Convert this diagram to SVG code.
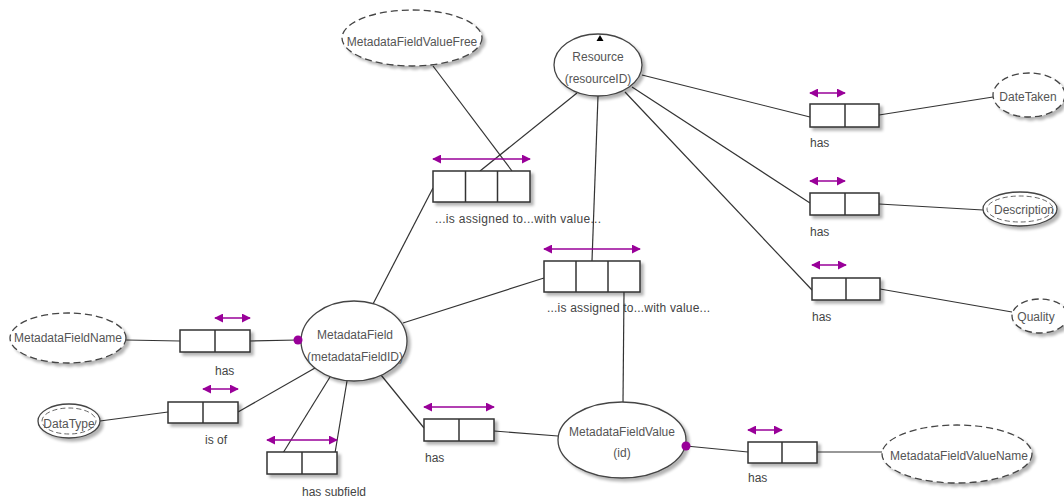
<svg xmlns="http://www.w3.org/2000/svg" width="1064" height="497" viewBox="0 0 1064 497">
<defs>
<style>
.node{fill:#fff;stroke:#444;stroke-width:1.3}
.dash{fill:#fff;stroke:#444;stroke-width:1.3;stroke-dasharray:7 4}
.inner{fill:none;stroke:#666;stroke-width:1;stroke-dasharray:5 3}
.box{fill:#fff;stroke:#333;stroke-width:1.5}
.div{stroke:#333;stroke-width:1.5}
.conn line{stroke:#333;stroke-width:1.2}
.arr{stroke:#990099;stroke-width:1.6;marker-start:url(#ah);marker-end:url(#ah)}
.t{font-family:"Liberation Sans",Arial,sans-serif;font-size:12px;fill:#555;text-anchor:middle}
.lbl{font-family:"Liberation Sans",Arial,sans-serif;font-size:12px;fill:#444}
.dot{fill:#990099}
</style>
<marker id="ah" viewBox="0 0 10 10" refX="9" refY="5" markerWidth="9" markerHeight="9" markerUnits="userSpaceOnUse" orient="auto-start-reverse">
<path d="M0,0 L10,5 L0,10 z" fill="#990099"/>
</marker>
<filter id="sh" x="-20%" y="-20%" width="150%" height="150%">
<feGaussianBlur in="SourceAlpha" stdDeviation="1.5"/>
<feOffset dx="3" dy="3" result="b"/>
<feComponentTransfer><feFuncA type="linear" slope="0.3"/></feComponentTransfer>
<feMerge><feMergeNode/><feMergeNode in="SourceGraphic"/></feMerge>
</filter>
</defs>
<rect width="1064" height="497" fill="#fff"/>

<g id="connectors" class="conn">
<line x1="433" y1="66" x2="512" y2="171"/>
<line x1="577" y1="93" x2="480" y2="171"/>
<line x1="373" y1="304" x2="433" y2="188"/>
<line x1="598" y1="96" x2="592" y2="261"/>
<line x1="403" y1="323" x2="544" y2="278"/>
<line x1="624" y1="292" x2="623" y2="402"/>
<line x1="642" y1="75" x2="810" y2="117"/>
<line x1="879" y1="115" x2="993" y2="97"/>
<line x1="632" y1="87" x2="810" y2="203"/>
<line x1="879" y1="204" x2="983" y2="210"/>
<line x1="625" y1="92" x2="812" y2="290"/>
<line x1="880" y1="289" x2="1012" y2="312"/>
<line x1="126" y1="340" x2="180" y2="341"/>
<line x1="250" y1="341" x2="298" y2="340"/>
<line x1="100" y1="421" x2="168" y2="412"/>
<line x1="238" y1="412" x2="315" y2="368"/>
<line x1="330" y1="377" x2="283" y2="453"/>
<line x1="347" y1="381" x2="335" y2="453"/>
<line x1="381" y1="375" x2="424" y2="428"/>
<line x1="494" y1="431" x2="558" y2="436"/>
<line x1="686" y1="446" x2="748" y2="452"/>
<line x1="817" y1="452" x2="882" y2="452"/>
</g>

<g id="resource">
<ellipse class="node" filter="url(#sh)" cx="598" cy="65" rx="44" ry="31"/>
<polygon points="600,35 596.5,41 603.5,41" fill="#000"/>
<text class="t" x="598" y="61">Resource</text>
<text class="t" x="598" y="83">(resourceID)</text>
</g>

<g id="metadataFieldValueFree">
<ellipse class="dash" filter="url(#sh)" cx="412" cy="38" rx="70" ry="28"/>
<text class="t" x="412" y="46">MetadataFieldValueFree</text>
</g>

<g id="dateTaken">
<ellipse class="dash" filter="url(#sh)" cx="1029" cy="95" rx="36" ry="22"/>
<text class="t" x="1028" y="101">DateTaken</text>
</g>

<g id="description">
<ellipse class="node" filter="url(#sh)" cx="1020" cy="209" rx="37" ry="17"/>
<ellipse class="inner" cx="1020" cy="209" rx="33" ry="13"/>
<text class="t" x="1024" y="214">Description</text>
</g>

<g id="quality">
<ellipse class="dash" filter="url(#sh)" cx="1040" cy="316" rx="28" ry="17"/>
<text class="t" x="1036" y="321">Quality</text>
</g>

<g id="metadataFieldName">
<ellipse class="dash" filter="url(#sh)" cx="68" cy="338" rx="58" ry="25"/>
<text class="t" x="68" y="342">MetadataFieldName</text>
</g>

<g id="dataType">
<ellipse class="node" filter="url(#sh)" cx="69" cy="421" rx="31" ry="17"/>
<ellipse class="inner" cx="69" cy="421" rx="27" ry="13"/>
<text class="t" x="69" y="428">DataType</text>
</g>

<g id="metadataField">
<ellipse class="node" filter="url(#sh)" cx="354" cy="341" rx="53" ry="40"/>
<text class="t" x="355" y="339">MetadataField</text>
<text class="t" x="355" y="361">(metadataFieldID)</text>
<circle class="dot" cx="298" cy="340" r="4.5"/>
</g>

<g id="metadataFieldValue">
<ellipse class="node" filter="url(#sh)" cx="622" cy="440" rx="64" ry="38"/>
<text class="t" x="622" y="436">MetadataFieldValue</text>
<text class="t" x="622" y="457">(id)</text>
<circle class="dot" cx="686" cy="446" r="4.5"/>
</g>

<g id="metadataFieldValueName">
<ellipse class="dash" filter="url(#sh)" cx="957" cy="454" rx="75" ry="29"/>
<text class="t" x="959" y="460">MetadataFieldValueName</text>
</g>

<g id="rel-assigned-top">
<rect class="box" filter="url(#sh)" x="433" y="171" width="97" height="31"/>
<line class="div" x1="465.5" y1="171" x2="465.5" y2="202"/>
<line class="div" x1="497.5" y1="171" x2="497.5" y2="202"/>
<line class="arr" x1="433" y1="159" x2="530" y2="159"/>
<text class="lbl" x="435" y="223" textLength="166">...is assigned to...with value...</text>
</g>

<g id="rel-assigned-mid">
<rect class="box" filter="url(#sh)" x="544" y="261" width="96" height="31"/>
<line class="div" x1="576" y1="261" x2="576" y2="292"/>
<line class="div" x1="608" y1="261" x2="608" y2="292"/>
<line class="arr" x1="544" y1="249" x2="640" y2="249"/>
<text class="lbl" x="547" y="312" textLength="163">...is assigned to...with value...</text>
</g>

<g id="rel-has-datetaken">
<rect class="box" filter="url(#sh)" x="810" y="104" width="69" height="23"/>
<line class="div" x1="845" y1="104" x2="845" y2="127"/>
<line class="arr" x1="810" y1="93" x2="845" y2="93"/>
<text class="lbl" x="810" y="147">has</text>
</g>

<g id="rel-has-description">
<rect class="box" filter="url(#sh)" x="810" y="193" width="69" height="22"/>
<line class="div" x1="845" y1="193" x2="845" y2="215"/>
<line class="arr" x1="810" y1="181" x2="845" y2="181"/>
<text class="lbl" x="810" y="236">has</text>
</g>

<g id="rel-has-quality">
<rect class="box" filter="url(#sh)" x="812" y="278" width="68" height="22"/>
<line class="div" x1="846" y1="278" x2="846" y2="300"/>
<line class="arr" x1="812" y1="265" x2="846" y2="265"/>
<text class="lbl" x="812" y="321">has</text>
</g>

<g id="rel-has-name">
<rect class="box" filter="url(#sh)" x="180" y="330" width="70" height="22"/>
<line class="div" x1="215" y1="330" x2="215" y2="352"/>
<line class="arr" x1="215" y1="318" x2="250" y2="318"/>
<text class="lbl" x="215" y="375">has</text>
</g>

<g id="rel-is-of">
<rect class="box" filter="url(#sh)" x="168" y="402" width="70" height="21"/>
<line class="div" x1="203" y1="402" x2="203" y2="423"/>
<line class="arr" x1="203" y1="389" x2="238" y2="389"/>
<text class="lbl" x="205" y="444">is of</text>
</g>

<g id="rel-has-subfield">
<rect class="box" filter="url(#sh)" x="267" y="452" width="70" height="22"/>
<line class="div" x1="302" y1="452" x2="302" y2="474"/>
<line class="arr" x1="267" y1="440" x2="337" y2="440"/>
<text class="lbl" x="302" y="496">has subfield</text>
</g>

<g id="rel-has-value">
<rect class="box" filter="url(#sh)" x="424" y="419" width="70" height="22"/>
<line class="div" x1="459" y1="419" x2="459" y2="441"/>
<line class="arr" x1="424" y1="407" x2="494" y2="407"/>
<text class="lbl" x="425" y="462">has</text>
</g>

<g id="rel-has-valuename">
<rect class="box" filter="url(#sh)" x="748" y="442" width="69" height="21"/>
<line class="div" x1="782" y1="442" x2="782" y2="463"/>
<line class="arr" x1="748" y1="430" x2="782" y2="430"/>
<text class="lbl" x="748" y="482">has</text>
</g>
</svg>
